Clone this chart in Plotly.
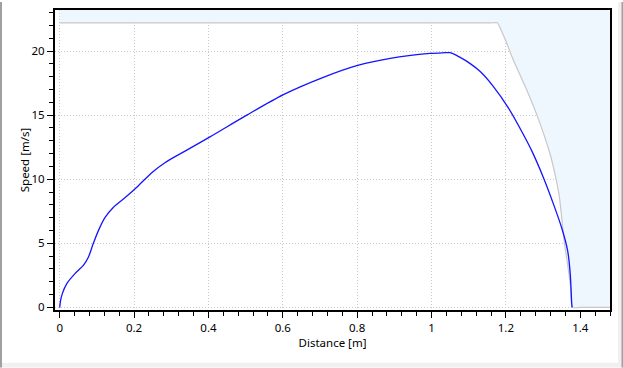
import plotly.graph_objects as go

# Measured speed profile
distance = [0, 0.002, 0.007, 0.019, 0.041, 0.0635, 0.077, 0.090, 0.104, 0.122, 0.144, 0.176,
            0.211, 0.2475, 0.283, 0.337, 0.404, 0.503, 0.6016, 0.709, 0.799, 0.889,
            0.996, 1.030, 1.050, 1.077, 1.105, 1.131, 1.1665, 1.207, 1.247, 1.270, 1.301, 1.328, 1.351,
            1.366, 1.373, 1.377, 1.378]
speed = [0, 0.5, 1.08, 1.86, 2.64, 3.28, 3.92, 4.96, 5.99, 7.02, 7.80, 8.57,
         9.48, 10.51, 11.29, 12.19, 13.30, 15.00, 16.60, 17.95, 18.86, 19.43,
         19.81, 19.86, 19.87, 19.50, 19.0, 18.4, 17.23, 15.55, 13.49, 12.19, 10.12, 8.06, 6.12,
         4.44, 2.64, 0.31, 0]

# Speed limit profile
limit_x = [0, 0.4, 0.8, 1.1, 1.16, 1.177, 1.189, 1.201, 1.220, 1.252, 1.283, 1.319, 1.335,
           1.344, 1.3575, 1.367, 1.374, 1.379, 1.40, 1.44, 1.48]
limit_y = [22.2, 22.2, 22.2, 22.2, 22.2, 22.2, 21.5, 20.7, 19.3, 17.23, 15.04, 11.95, 10.0,
           8.6, 5.0, 3.15, 1.6, 0, 0, 0, 0]

x_range = [-0.0127, 1.48]
y_range = [-0.2, 23.2]

W, H = 623, 368
ml, mr, mt, mb = 55, 13, 8, 58

fig = go.Figure()

# Forbidden region (above limit)
poly_x = limit_x + [x_range[1], limit_x[0]]
poly_y = limit_y + [y_range[1], y_range[1]]
fig.add_trace(go.Scatter(x=poly_x, y=poly_y, fill='toself', fillcolor='#EEF6FE',
                         mode='none', hoverinfo='skip', showlegend=False))
fig.add_trace(go.Scatter(x=limit_x, y=limit_y, mode='lines',
                         line=dict(color='#C8C8C8', width=1.2, shape='spline', smoothing=0.5),
                         showlegend=False))
fig.add_trace(go.Scatter(x=distance, y=speed, mode='lines',
                         line=dict(color='#1414FF', width=1.3, shape='spline', smoothing=0.8),
                         showlegend=False))

font = dict(family='Noto Sans', size=11.5, color='black')

fig.update_xaxes(range=x_range, tickmode='array', tickvals=[0, 0.2, 0.4, 0.6, 0.8, 1, 1.2, 1.4],
                 ticktext=['0', '0.2', '0.4', '0.6', '0.8', '1', '1.2', '1.4'],
                 showline=True, linecolor='black', linewidth=2, mirror=True,
                 ticks='outside', ticklen=6, tickwidth=1, tickcolor='black',
                 minor=dict(tick0=0, dtick=0.04, ticks='outside', ticklen=4, tickwidth=1,
                            tickcolor='black', showgrid=False),
                 showgrid=True, gridcolor='#C8C8C8', griddash='1px,2px', gridwidth=1,
                 zeroline=False, tickfont=font,
                 title=dict(text='Distance [m]', font=font, standoff=4))
fig.update_yaxes(range=y_range, tickmode='array', tickvals=[0, 5, 10, 15, 20],
                 showline=True, linecolor='black', linewidth=2, mirror=True,
                 ticks='outside', ticklen=6, tickwidth=1, tickcolor='black',
                 minor=dict(tick0=0, dtick=1, ticks='outside', ticklen=4, tickwidth=1,
                            tickcolor='black', showgrid=False),
                 showgrid=True, gridcolor='#C8C8C8', griddash='1px,2px', gridwidth=1,
                 zeroline=False, tickfont=font,
                 title=dict(text='Speed [m/s]', font=font, standoff=0))

pw = W - ml - mr
ph = H - mt - mb
def px2paper_x(px):
    return (px - ml) / pw
def px2paper_y(py):
    return (H - mb - py) / ph

shapes = [
    dict(type='rect', xref='paper', yref='paper', x0=px2paper_x(0), x1=px2paper_x(W),
         y0=px2paper_y(363), y1=px2paper_y(H), fillcolor='#F0F0F0', line=dict(width=0), layer='below'),
    dict(type='rect', xref='paper', yref='paper', x0=px2paper_x(618), x1=px2paper_x(W),
         y0=px2paper_y(H), y1=px2paper_y(0), fillcolor='#F0F0F0', line=dict(width=0), layer='below'),
    dict(type='rect', xref='paper', yref='paper', x0=px2paper_x(621.5), x1=px2paper_x(W),
         y0=px2paper_y(H), y1=px2paper_y(0), fillcolor='#A0A0A0', line=dict(width=0), layer='below'),
    dict(type='rect', xref='paper', yref='paper', x0=px2paper_x(0), x1=px2paper_x(2),
         y0=px2paper_y(H), y1=px2paper_y(0), fillcolor='#A0A0A0', line=dict(width=0), layer='below'),
]

fig.update_layout(width=W, height=H, margin=dict(l=ml, r=mr, t=mt, b=mb),
                  paper_bgcolor='white', plot_bgcolor='white', shapes=shapes,
                  font=font)

fig.write_html('out.html', config={'displayModeBar': False},
               post_script="document.body.style.margin='0px';document.body.style.overflow='hidden';")
